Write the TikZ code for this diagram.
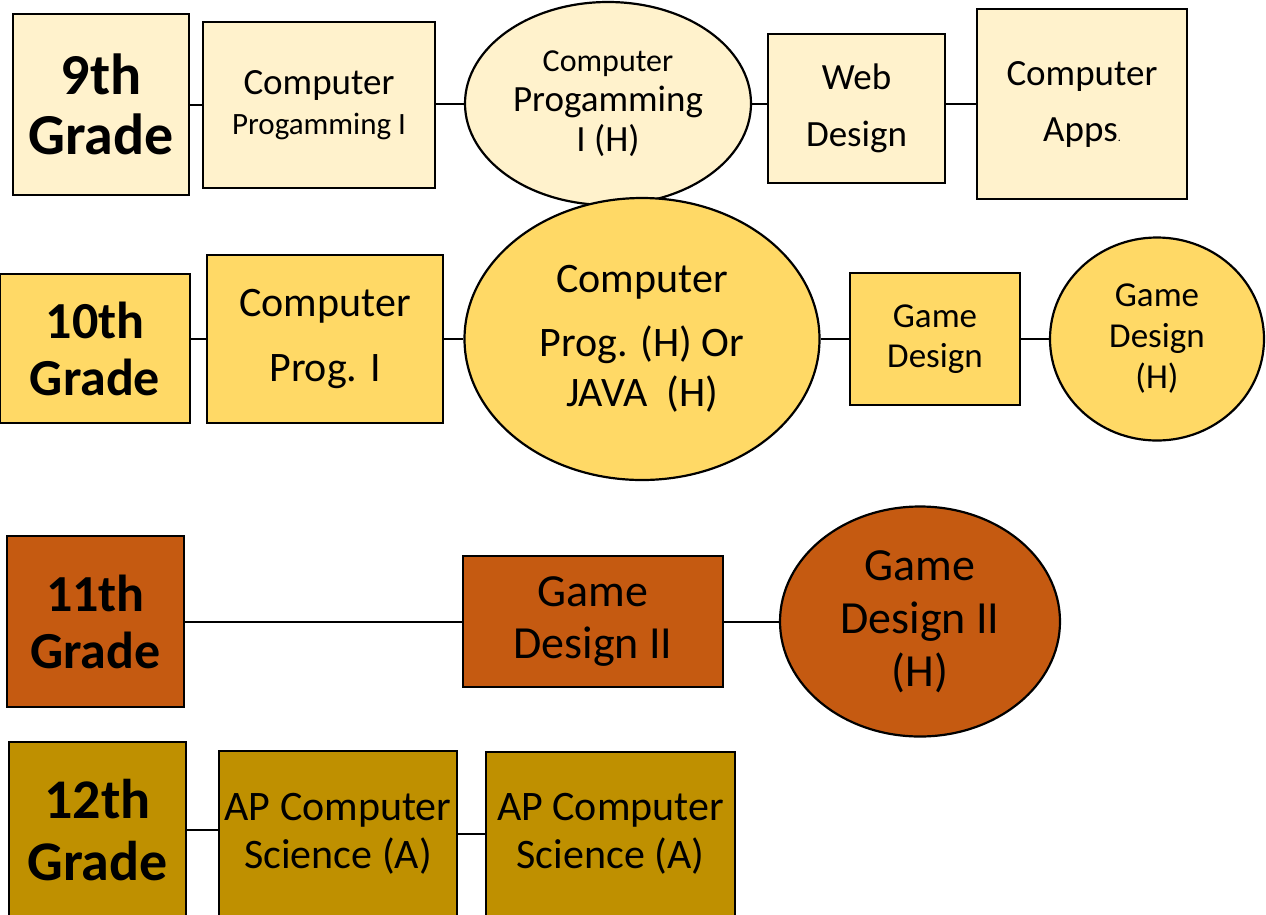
\documentclass[tikz,border=0pt]{standalone}
\usepackage{fontspec}
\setmainfont{Carlito}
\usetikzlibrary{shapes.geometric}

\definecolor{nine}{HTML}{FFF2CC}
\definecolor{ten}{HTML}{FFD966}
\definecolor{eleven}{HTML}{C55A11}
\definecolor{twelve}{HTML}{BF9000}
\newcommand{\fsz}[2]{\fontsize{#1}{#2}\selectfont}

\begin{document}
\begin{tikzpicture}[
    x=1pt, y=-1pt,
    grade/.style={draw,line width=2.5pt,align=center,inner sep=0pt},
    course/.style={draw,line width=2.5pt,align=center,inner sep=0pt},
    oval/.style={ellipse,draw,line width=2.2pt,align=center,inner sep=0pt},
    line/.style={line width=2pt}
]
\useasboundingbox (0,0) rectangle (1266,914);

% 9th grade
\node[grade,fill=nine,minimum width=176pt,minimum height=181pt,font=\bfseries\fsz{58}{60}] (g9) at (101,104.5) {9th\\Grade};
\node[course,fill=nine,minimum width=232pt,minimum height=166pt,font=\fsz{37}{40}] (cp1) at (319,105)
    {Computer\\\fsz{31}{40}Progamming I};
\node[oval,fill=nine,minimum width=286pt,minimum height=203pt,font=\fsz{37}{40}] (cph) at (608,103.5)
    {\fsz{32}{40}Computer\\Progamming\\I (H)};
\node[course,fill=nine,minimum width=177pt,minimum height=149pt,font=\fsz{37}{57}] (web) at (856.5,108.5) {Web\\Design};
\node[course,fill=nine,minimum width=210pt,minimum height=190pt,font=\fsz{37}{56}] (apps) at (1082,104)
    {Computer\\Apps{\fsz{12}{12}.}};

\draw[line] (g9) -- (g9 -| cp1.west);
\draw[line] (cph) -- (cph -| cp1.east);
\draw[line] (cph) -- (cph -| web.west);
\draw[line] (apps) -- (apps -| web.east);

% 10th grade
\node[grade,fill=ten,minimum width=190pt,minimum height=149pt,font=\bfseries\fsz{52}{57}] (g10) at (95,348.5) {10th\\Grade};
\node[course,fill=ten,minimum width=236pt,minimum height=168pt,font=\fsz{42}{65}] (cp2) at (325,339) {Computer\\Prog. I};
\node[oval,fill=ten,minimum width=355pt,minimum height=282pt,font=\fsz{42}{50}] (java) at (642,339)
    {Computer\\[14pt]Prog. (H) Or\\JAVA~~(H)};
\node[course,fill=ten,minimum width=170pt,minimum height=132pt,font=\fsz{35}{40}] (gd) at (935,339) {Game\\Design};
\node[oval,fill=ten,minimum width=214pt,minimum height=203pt,font=\fsz{35}{41}] (gdh) at (1157,339) {Game\\Design\\(H)};

\draw[line] (cp2) -- (cp2 -| g10.east);
\draw[line] (cp2) -- (java);
\draw[line] (java) -- (gd);
\draw[line] (gd) -- (gdh);

% 11th grade
\node[grade,fill=eleven,minimum width=177pt,minimum height=171pt,font=\bfseries\fsz{52}{57}] (g11) at (95.5,621.5) {11th\\Grade};
\node[course,fill=eleven,minimum width=260pt,minimum height=131pt,font=\fsz{46}{52}] (gd2) at (593,621.5) {Game\\Design II};
\node[oval,fill=eleven,minimum width=280pt,minimum height=230pt,font=\fsz{46}{53}] (gd2h) at (920,621.5) {Game\\Design II\\(H)};

\draw[line] (g11) -- (gd2);
\draw[line] (gd2) -- (gd2h);

% 12th grade
\node[grade,fill=twelve,minimum width=177pt,minimum height=176pt,font=\bfseries\fsz{56}{62}] (g12) at (97.5,830) {12th\\Grade};
\node[course,fill=twelve,minimum width=238pt,minimum height=166pt,font=\fsz{42}{48}] (ap1) at (338,834) {AP Computer\\Science (A)};
\node[course,fill=twelve,minimum width=249pt,minimum height=164pt,font=\fsz{42}{48}] (ap2) at (610.5,834) {AP Computer\\Science (A)};

\draw[line] (g12) -- (g12 -| ap1.west);
\draw[line] (ap1) -- (ap2);

\end{tikzpicture}
\end{document}
